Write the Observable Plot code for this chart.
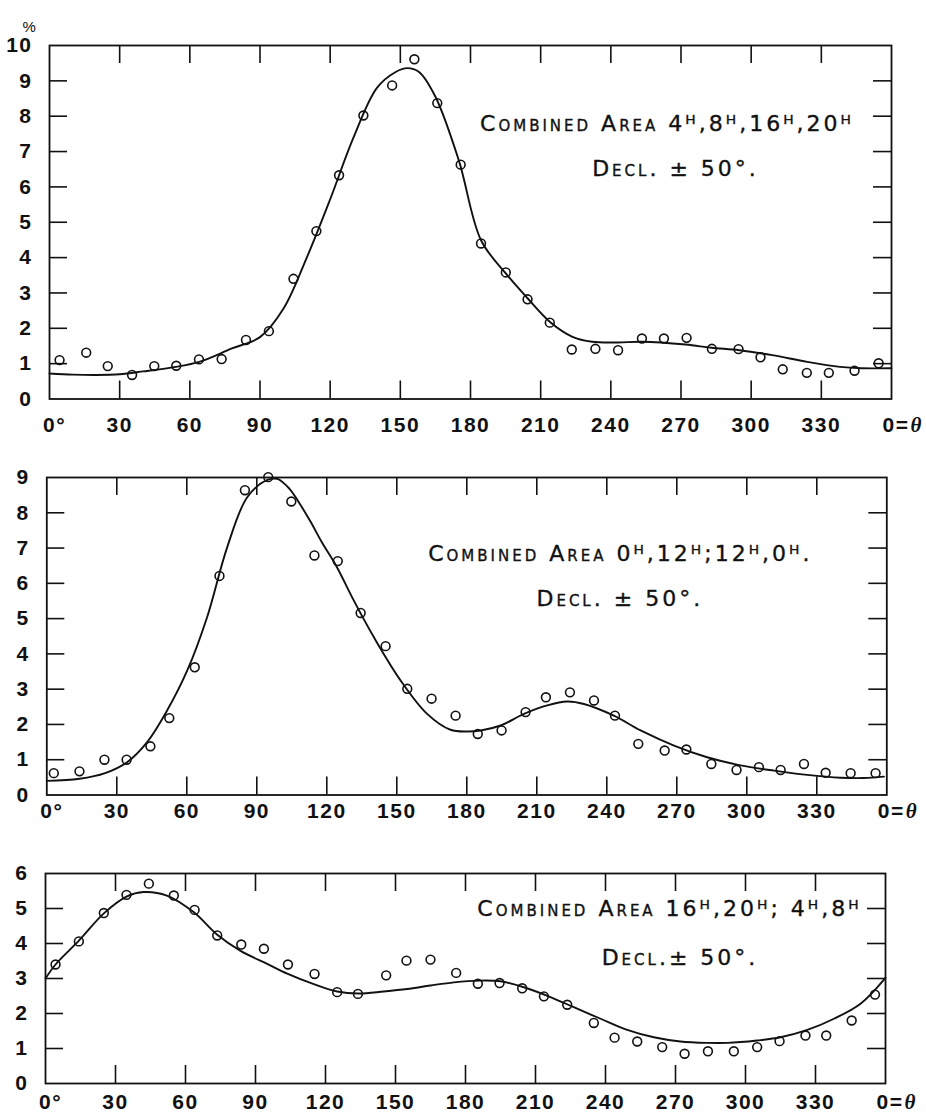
<!DOCTYPE html>
<html>
<head>
<meta charset="utf-8">
<script src="https://cdn.jsdelivr.net/npm/d3@7"></script>
<script src="https://cdn.jsdelivr.net/npm/@observablehq/plot@0.6"></script>
<style>
  html, body { margin: 0; padding: 0; background: #fff; }
  #wrap { position: relative; width: 926px; height: 1114px; background: #fff; overflow: hidden; }
  g[font-variant="small-caps"] text { letter-spacing: 3px; }
  g[aria-label="y-axis tick label"] text, g[aria-label="x-axis tick label"] text { letter-spacing: 1.5px; }
</style>
</head>
<body>
<div id="wrap"></div>
<script>
// ---------------- DATA ----------------
const xTicks = [30, 60, 90, 120, 150, 180, 210, 240, 270, 300, 330];

// Panel 1: Combined Area 4h, 8h, 16h, 20h
const theta1 = [4.3, 15.7, 24.9, 35.3, 44.8, 54.2, 63.9, 73.6, 84, 93.8, 104.3, 114.1, 123.8, 134.2, 146.5, 156, 165.8, 175.8, 184.5, 195.1, 204.4, 213.9, 223.3, 233.4, 243.1, 253.3, 262.7, 272.4, 283.2, 294.6, 304, 313.5, 323.8, 333.2, 344.2, 354.5];
const pct1 = [1.10, 1.31, 0.93, 0.68, 0.93, 0.94, 1.12, 1.13, 1.67, 1.92, 3.40, 4.75, 6.33, 8.02, 8.87, 9.61, 8.37, 6.63, 4.40, 3.58, 2.82, 2.16, 1.40, 1.42, 1.38, 1.71, 1.71, 1.73, 1.42, 1.41, 1.18, 0.84, 0.74, 0.74, 0.80, 1.01];
const curveTheta1 = [0, 10, 20, 30, 40, 54, 64, 78, 90, 100, 110, 120, 130, 140, 148, 153, 158, 165, 175, 184.5, 195, 204.4, 214, 223.6, 232, 243, 253, 272, 283, 295, 309, 324, 338, 347, 360];
const curvePct1 = [0.72, 0.69, 0.68, 0.70, 0.78, 0.91, 1.05, 1.43, 1.75, 2.55, 4.00, 5.65, 7.40, 8.80, 9.25, 9.36, 9.25, 8.55, 6.75, 4.49, 3.56, 2.85, 2.18, 1.76, 1.62, 1.60, 1.62, 1.54, 1.45, 1.38, 1.24, 1.05, 0.91, 0.87, 0.87];
const yLabels1 = [0, 1, 2, 3, 4, 5, 6, 7, 8, 9, 10];
const yInner1 = [1, 2, 3, 4, 5, 6, 7, 8, 9];

// Panel 2: Combined Area 0h, 12h; 12h, 0h
const theta2 = [3, 14, 24.7, 34.2, 44.4, 52.5, 63.4, 74, 84.9, 94.9, 104.8, 114.7, 124.7, 134.5, 145.2, 154.5, 164.9, 175.2, 184.7, 194.9, 205.2, 213.9, 224.2, 234.5, 243.5, 253.5, 264.8, 274.1, 284.8, 295.6, 305.2, 314.5, 324.5, 333.8, 344.5, 355.2];
const pct2 = [0.62, 0.67, 1.00, 1.00, 1.38, 2.18, 3.62, 6.21, 8.64, 9.01, 8.32, 6.79, 6.63, 5.16, 4.22, 3.01, 2.73, 2.25, 1.73, 1.83, 2.35, 2.77, 2.91, 2.68, 2.25, 1.45, 1.26, 1.29, 0.88, 0.71, 0.79, 0.71, 0.88, 0.63, 0.62, 0.62];
const curveTheta2 = [0, 14, 25, 34.4, 43, 51.6, 60.2, 68.7, 77.3, 85.9, 94.5, 98.8, 104, 108, 113, 118, 124, 131.6, 140.2, 151.6, 163, 173, 180, 186, 194.5, 204.5, 214.5, 223, 230.2, 243, 254.5, 268.8, 283, 297.3, 311.6, 325.9, 340.2, 350, 358.8];
const curvePct2 = [0.40, 0.46, 0.62, 0.93, 1.50, 2.40, 3.53, 5.04, 7.02, 8.44, 8.93, 8.96, 8.68, 8.30, 7.75, 7.15, 6.50, 5.51, 4.47, 3.25, 2.30, 1.85, 1.80, 1.83, 1.97, 2.30, 2.54, 2.65, 2.58, 2.25, 1.83, 1.40, 1.07, 0.84, 0.69, 0.57, 0.49, 0.48, 0.52];
const yLabels2 = [0, 1, 2, 3, 4, 5, 6, 7, 8, 9];
const yInner2 = [1, 2, 3, 4, 5, 6, 7, 8];

// Panel 3: Combined Area 16h, 20h; 4h, 8h
const theta3 = [4.3, 14.3, 25, 34.7, 44.3, 55, 63.9, 73.6, 83.9, 93.6, 103.9, 115.3, 125, 133.9, 146, 154.7, 165, 176, 185.3, 194.6, 204.3, 213.6, 223.6, 235, 243.9, 253.6, 264.3, 273.9, 283.9, 295, 305, 314.6, 325.7, 334.6, 345.5, 355.5];
const pct3 = [3.40, 4.06, 4.87, 5.39, 5.71, 5.37, 4.96, 4.23, 3.97, 3.85, 3.40, 3.13, 2.61, 2.56, 3.09, 3.51, 3.54, 3.16, 2.85, 2.87, 2.72, 2.49, 2.25, 1.73, 1.31, 1.20, 1.04, 0.85, 0.92, 0.92, 1.04, 1.21, 1.37, 1.37, 1.80, 2.54];
const curveTheta3 = [0, 4.3, 14.3, 25, 34.7, 42, 52, 63.6, 73.6, 83.6, 95, 103.6, 115, 125, 134, 145, 155, 165, 175, 186, 195, 205, 216.4, 226.4, 237.9, 249.3, 260.7, 272.1, 283.6, 292.2, 305, 315, 326.5, 337.9, 349.3, 360];
const curvePct3 = [3.0, 3.40, 4.08, 4.86, 5.34, 5.47, 5.37, 4.89, 4.25, 3.79, 3.42, 3.14, 2.84, 2.63, 2.57, 2.63, 2.70, 2.80, 2.89, 2.94, 2.92, 2.75, 2.47, 2.18, 1.85, 1.53, 1.32, 1.20, 1.16, 1.16, 1.23, 1.32, 1.53, 1.85, 2.28, 3.02];
const yLabels3 = [0, 1, 2, 3, 4, 5, 6];
const yInner3 = [1, 2, 3, 4, 5];

const titles = [
  ["Combined Area 4ᴴ,8ᴴ,16ᴴ,20ᴴ", "Decl. ± 50°."],
  ["Combined Area 0ᴴ,12ᴴ;12ᴴ,0ᴴ.", "Decl. ± 50°."],
  ["Combined Area 16ᴴ,20ᴴ; 4ᴴ,8ᴴ", "Decl.± 50°."]
];

// ---------------- DRAWING ----------------
const tickFont = "Liberation Sans, Arial, sans-serif";
const labelFont = "DejaVu Sans, sans-serif";
const TL = 18; // inward tick length (px)
const FS = 21; // tick label font size

function panel(o) {
  const W = 926;
  const fw = W - o.m[1] - o.m[3];            // frame width in px
  const fh = o.height - o.m[0] - o.m[2];     // frame height in px
  const ty = TL * o.yMax / fh;               // tick length expressed along y
  const tx = TL * 360 / fw;                  // tick length expressed along x
  const pts = o.theta.map((t, i) => ({t, p: o.pct[i]}));
  const crv = o.curveTheta.map((t, i) => ({t, p: o.curvePct[i]}));
  const lab = {fontSize: FS, fontWeight: "bold", fontFamily: tickFont, label: null, fill: "#111", tickSize: 0};
  const tk = {stroke: "#111", strokeWidth: 1.6};
  const marks = [
    // inward ticks on all four sides
    Plot.ruleX(xTicks, {x: d => d, y1: 0, y2: ty, ...tk}),
    Plot.ruleX(xTicks, {x: d => d, y1: o.yMax - ty, y2: o.yMax, ...tk}),
    Plot.ruleY(o.yInner, {y: d => d, x1: 0, x2: tx, ...tk}),
    Plot.ruleY(o.yInner, {y: d => d, x1: 360 - tx, x2: 360, ...tk}),
    Plot.frame({stroke: "#111", strokeWidth: 1.8}),
    // tick labels
    Plot.axisY(o.yLabels, {...lab, anchor: "left", tickPadding: 17}),
    Plot.axisX(xTicks, {...lab, anchor: "bottom", tickPadding: o.xLabGap}),
    Plot.axisX([0], {...lab, anchor: "bottom", tickPadding: o.xLabGap, tickFormat: () => "0°", dx: 5}),
    Plot.axisX([360], {...lab, anchor: "bottom", tickPadding: o.xLabGap, tickFormat: () => "0=", textAnchor: "start", dx: -9}),
    Plot.axisX([360], {...lab, anchor: "bottom", tickPadding: o.xLabGap, tickFormat: () => "θ", textAnchor: "start", dx: 19, fontFamily: "Liberation Serif, serif", fontStyle: "italic", fontWeight: "bold"}),
    // data
    Plot.line(crv, {x: "t", y: "p", curve: "catmull-rom", stroke: "#111", strokeWidth: 1.9}),
    Plot.dot(pts, {x: "t", y: "p", r: 4.4, stroke: "#111", strokeWidth: 1.6, fill: "none"}),
    // annotations
    Plot.text([o.title[0]], {frameAnchor: "top-right", dx: o.t1[0], dy: o.t1[1], textAnchor: "middle", fontSize: 22, fontVariant: "small-caps", fontFamily: labelFont, fill: "#111", stroke: "#111", strokeWidth: 0.35}),
    Plot.text([o.title[1]], {frameAnchor: "top-right", dx: o.t2[0], dy: o.t2[1], textAnchor: "middle", fontSize: 22, fontVariant: "small-caps", fontFamily: labelFont, fill: "#111", stroke: "#111", strokeWidth: 0.35})
  ];
  if (o.percent) {
    marks.push(Plot.text(["%"], {frameAnchor: "top-left", dx: -27, dy: -24, fontSize: 15, fontFamily: tickFont, fill: "#111"}));
  }
  const svg = Plot.plot({
    width: W,
    height: o.height,
    marginTop: o.m[0], marginRight: o.m[1], marginBottom: o.m[2], marginLeft: o.m[3],
    x: {domain: [0, 360]},
    y: {domain: [0, o.yMax]},
    style: {background: "transparent", color: "#111", overflow: "visible"},
    marks
  });
  svg.style.position = "absolute";
  svg.style.top = o.top + "px";
  svg.style.left = "0px";
  document.getElementById("wrap").appendChild(svg);
}

panel({theta: theta1, pct: pct1, curveTheta: curveTheta1, curvePct: curvePct1, yMax: 10, yLabels: yLabels1, yInner: yInner1,
  title: titles[0], top: 0, height: 440, m: [45, 35, 41.5, 49], xLabGap: 18, t1: [-224.5, 70], t2: [-216, 115], percent: true});
panel({theta: theta2, pct: pct2, curveTheta: curveTheta2, curvePct: curvePct2, yMax: 9, yLabels: yLabels2, yInner: yInner2,
  title: titles[1], top: 440, height: 390, m: [37, 39.7, 35.5, 46.3], xLabGap: 8, t1: [-266.5, 68], t2: [-267, 113]});
panel({theta: theta3, pct: pct3, curveTheta: curveTheta3, curvePct: curvePct3, yMax: 6, yLabels: yLabels3, yInner: yInner3,
  title: titles[2], top: 830, height: 284, m: [43, 41, 31, 45], xLabGap: 11, t1: [-216, 27], t2: [-205.5, 76]});
</script>
</body>
</html>
